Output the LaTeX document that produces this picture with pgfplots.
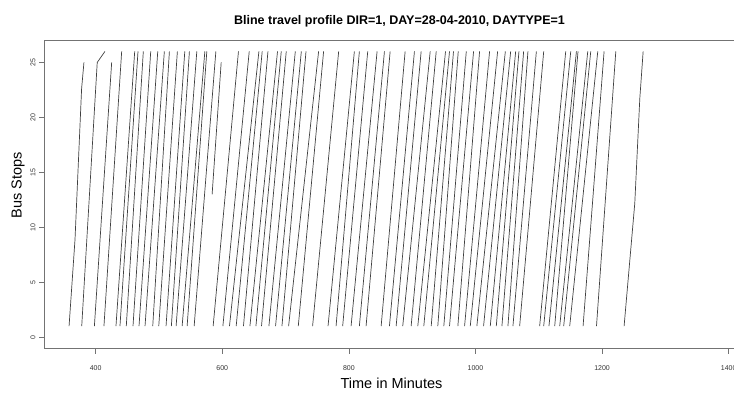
\documentclass[border=0pt]{standalone}
\usepackage{pgfplots}
\pgfplotsset{compat=1.18}
\usepackage{fontspec}
\setmainfont{Liberation Sans}
\begin{document}
\begin{tikzpicture}
\begin{axis}[
  scale only axis, width=711pt, height=308.6pt,
  xmin=318.4, xmax=1441.6, ymin=-1.04, ymax=27.04,
  xtick={400,600,800,1000,1200,1400},
  ytick={0,5,10,15,20,25},
  /pgf/number format/assume math mode=true,
  /pgf/number format/set thousands separator={},
  tick align=outside, major tick length=5pt,
  xtick pos=bottom, ytick pos=left,
  axis line style={black!55, line width=0.8pt},
  every tick/.style={black!55, line width=0.7pt},
  tick label style={font=\fontsize{7}{8}\selectfont, text=black!80},
  xticklabel style={anchor=center, yshift=-14.4pt},
  yticklabel style={anchor=center, xshift=-6pt, rotate=90},
  every axis title/.style={at={(axis description cs:0.5,1)}, anchor=center, yshift=19pt, font=\bfseries\fontsize{12.5}{15}\selectfont},
  every axis x label/.style={at={(axis description cs:0.5,0)}, xshift=-8pt, yshift=-35pt, anchor=center, font=\fontsize{14.5}{16}\selectfont},
  every axis y label/.style={at={(axis description cs:0,0.5)}, xshift=-26pt, yshift=9pt, rotate=90, anchor=center, font=\fontsize{14.5}{16}\selectfont},
  title={Bline travel profile DIR=1, DAY=28-04-2010, DAYTYPE=1},
  xlabel={Time in Minutes},
  ylabel={Bus Stops},
  trip/.style={black!75, line width=0.7pt, mark=none},
]
\addplot[trip] coordinates {(358,1) (367.4,8.9) (377.8,22.6) (381.5,25)};
\addplot[trip] coordinates {(378,1) (402.5,25) (414.7,26)};
\addplot[trip] coordinates {(398,1) (425.3,25)};
\addplot[trip] coordinates {(413.1,1) (441.1,26)};
\addplot[trip] coordinates {(432.1,1) (461.7,26)};
\addplot[trip] coordinates {(438.4,1) (466.9,26)};
\addplot[trip] coordinates {(448.4,1) (475.3,26)};
\addplot[trip] coordinates {(459.0,1) (487.0,26)};
\addplot[trip] coordinates {(468.5,1) (498.1,26)};
\addplot[trip] coordinates {(478.0,1) (508.5,26)};
\addplot[trip] coordinates {(490.2,1) (516.5,26)};
\addplot[trip] coordinates {(499.7,1) (529.1,26)};
\addplot[trip] coordinates {(511.2,1) (540.8,26)};
\addplot[trip] coordinates {(519.6,1) (548.1,26)};
\addplot[trip] coordinates {(527.1,1) (559.8,26)};
\addplot[trip] coordinates {(536.6,1) (572.5,26)};
\addplot[trip] coordinates {(544.5,1) (575.6,26)};
\addplot[trip] coordinates {(555.6,1) (589.9,26)};
\addplot[trip] coordinates {(584.0,13) (598.3,25)};
\addplot[trip] coordinates {(585.6,1) (625.6,26)};
\addplot[trip] coordinates {(601.0,1) (642.6,26)};
\addplot[trip] coordinates {(611.4,1) (657.9,26)};
\addplot[trip] coordinates {(622.0,1) (663.1,26)};
\addplot[trip] coordinates {(633.5,1) (672.2,26)};
\addplot[trip] coordinates {(643.7,1) (687.3,26)};
\addplot[trip] coordinates {(653.2,1) (693.2,26)};
\addplot[trip] coordinates {(662.0,1) (701.1,26)};
\addplot[trip] coordinates {(673.7,1) (715.4,26)};
\addplot[trip] coordinates {(684.2,1) (724.9,26)};
\addplot[trip] coordinates {(694.3,1) (732.3,26)};
\addplot[trip] coordinates {(704.8,1) (752.2,26)};
\addplot[trip] coordinates {(720.1,1) (760.1,26)};
\addplot[trip] coordinates {(742.7,1) (783.9,26)};
\addplot[trip] coordinates {(767.1,1) (808.7,26)};
\addplot[trip] coordinates {(779.8,1) (816.6,26)};
\addplot[trip] coordinates {(790.2,1) (829.8,26)};
\addplot[trip] coordinates {(803.5,1) (844.6,26)};
\addplot[trip] coordinates {(816.6,1) (856.2,26)};
\addplot[trip] coordinates {(827.2,1) (865.2,26)};
\addplot[trip] coordinates {(851.0,1) (888.9,26)};
\addplot[trip] coordinates {(864.1,1) (903.6,26)};
\addplot[trip] coordinates {(874.7,1) (914.2,26)};
\addplot[trip] coordinates {(885.1,1) (928.5,26)};
\addplot[trip] coordinates {(898.4,1) (938.0,26)};
\addplot[trip] coordinates {(908.9,1) (952.7,26)};
\addplot[trip] coordinates {(918.4,1) (959.0,26)};
\addplot[trip] coordinates {(930.1,1) (965.3,26)};
\addplot[trip] coordinates {(940.5,1) (972.8,26)};
\addplot[trip] coordinates {(950.0,1) (985.5,26)};
\addplot[trip] coordinates {(959.0,1) (997.0,26)};
\addplot[trip] coordinates {(972.2,1) (1006.5,26)};
\addplot[trip] coordinates {(982.8,1) (1022.3,26)};
\addplot[trip] coordinates {(991.8,1) (1035.0,26)};
\addplot[trip] coordinates {(1002.2,1) (1047.2,26)};
\addplot[trip] coordinates {(1012.8,1) (1055.6,26)};
\addplot[trip] coordinates {(1023.4,1) (1063.5,26)};
\addplot[trip] coordinates {(1032.9,1) (1068.7,26)};
\addplot[trip] coordinates {(1041.8,1) (1076.1,26)};
\addplot[trip] coordinates {(1051.3,1) (1082.9,26)};
\addplot[trip] coordinates {(1059.2,1) (1096.2,26)};
\addplot[trip] coordinates {(1069.8,1) (1107.8,26)};
\addplot[trip] coordinates {(1101.4,1) (1142.6,26)};
\addplot[trip] coordinates {(1107.8,1) (1150.5,26)};
\addplot[trip] coordinates {(1116.1,1) (1159.5,26)};
\addplot[trip] coordinates {(1125.2,1) (1162.0,26)};
\addplot[trip] coordinates {(1133.1,1) (1177.4,26)};
\addplot[trip] coordinates {(1139.4,1) (1182.1,26)};
\addplot[trip] coordinates {(1148.9,1) (1193.2,26)};
\addplot[trip] coordinates {(1170.0,1) (1203.2,26)};
\addplot[trip] coordinates {(1191.2,1) (1221.7,26)};
\addplot[trip] coordinates {(1234.8,1) (1251.7,12.2) (1259.6,21.7) (1264.9,26)};
\end{axis}
\pgfresetboundingbox
\path ([xshift=-44pt,yshift=-47.4pt]current axis.south west) rectangle ([xshift=-21pt,yshift=40pt]current axis.north east);
\end{tikzpicture}
\end{document}
